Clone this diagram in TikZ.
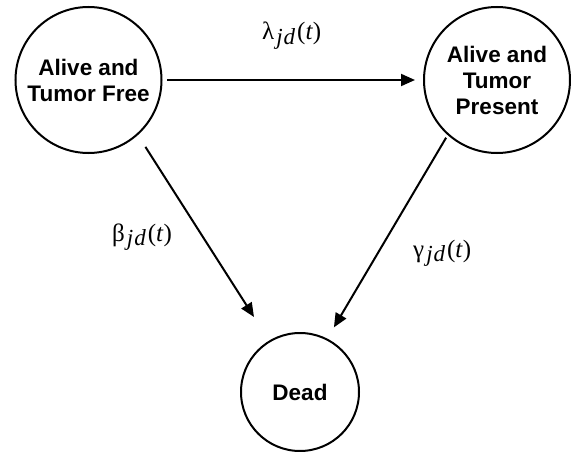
\documentclass[tikz,border=0pt]{standalone}
\usepackage{fontspec}
\setmainfont{Liberation Serif}
\newfontfamily\hv{Liberation Sans}
\usetikzlibrary{arrows.meta}
\tikzset{
  state/.style={circle, draw, line width=2pt, outer sep=0pt, inner sep=0pt,
    align=center, font=\hv\bfseries\fontsize{22.5}{26}\selectfont},
  big/.style={state, minimum size=146pt},
  small/.style={state, minimum size=118pt},
  link/.style={line width=2pt, -{Triangle[length=14pt,width=12pt]}},
  rate/.style={anchor=base west, inner sep=0pt, font=\fontsize{25}{28}\selectfont}
}
\newcommand{\ratelabel}[1]{#1\kern2pt\raisebox{-4.5pt}{\fontsize{23}{23}\selectfont\itshape j\kern1pt d}\kern2pt(\textit{t})}
\begin{document}
\begin{tikzpicture}[x=1pt,y=-1pt]
\useasboundingbox (0,0) rectangle (571,452);
\node[big] (a) at (88.5,80) {Alive and\\Tumor Free};
\node[big] (b) at (497,80) {Alive and\\Tumor\\Present};
\node[small] (d) at (300,392) {Dead};
\draw[link, shorten <=5.5pt, shorten >=9pt] (a.0) -- (b.180);
\draw[link, shorten <=15pt, shorten >=29pt] (a.-48) -- (d.121.5);
\draw[link, shorten <=4pt, shorten >=14pt] (b.228.7) -- (d.63.1);
\node[rate] (l1) at (262,40) {\ratelabel{λ}};
\node[rate] (l2) at (112,241) {\ratelabel{β}};
\node[rate] (l3) at (413,257) {\ratelabel{γ}};
\end{tikzpicture}
\end{document}
